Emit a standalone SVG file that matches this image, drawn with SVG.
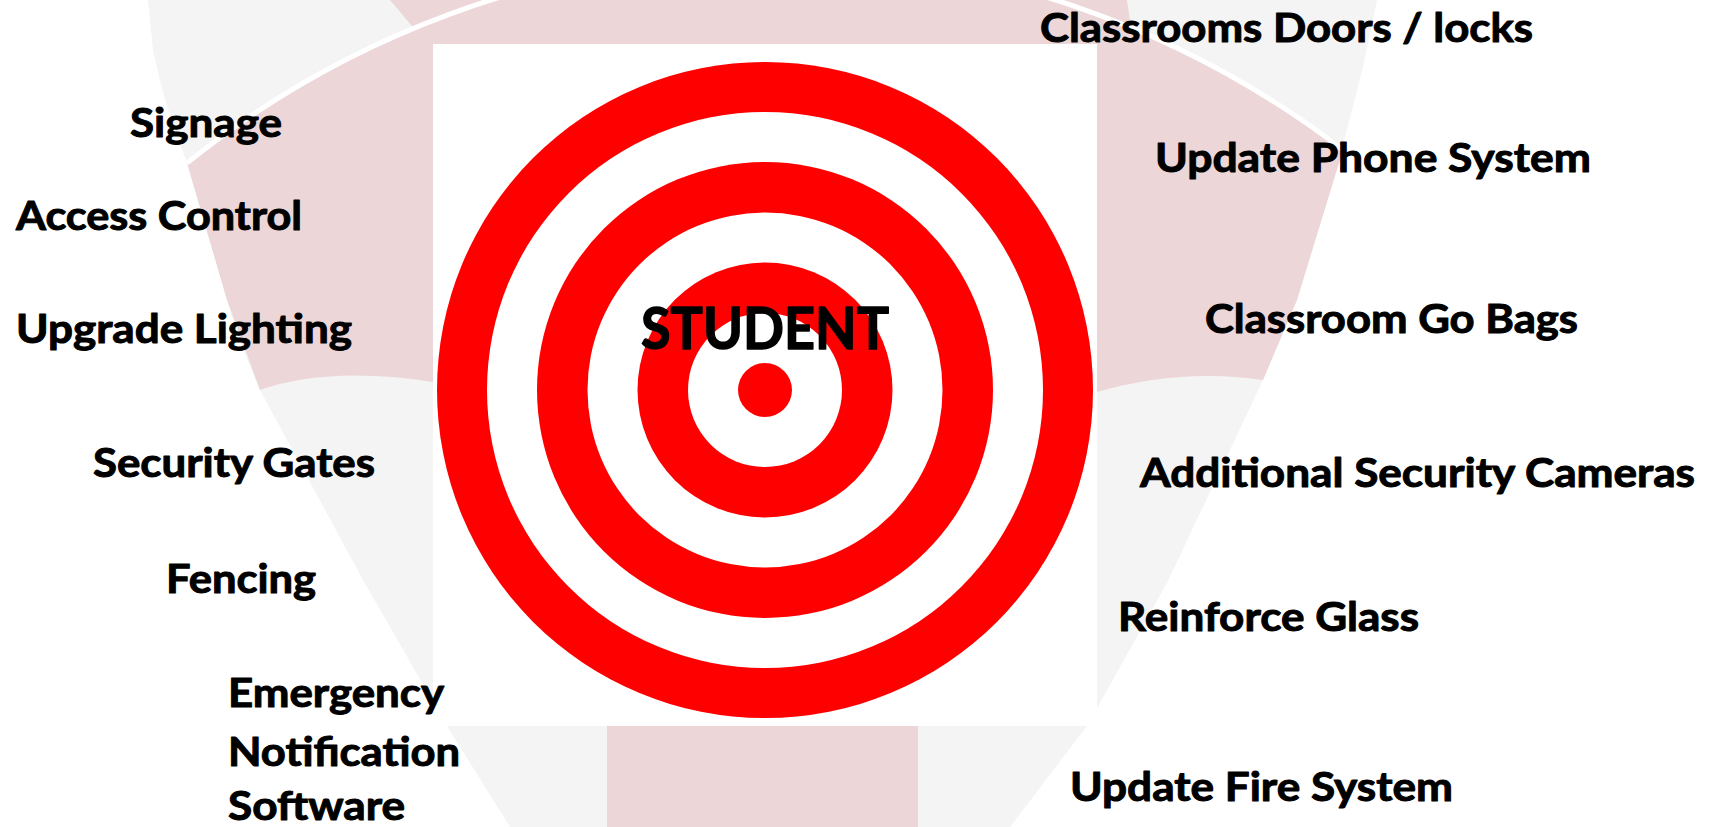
<svg xmlns="http://www.w3.org/2000/svg" width="1710" height="827" viewBox="0 0 1710 827">
  <style>
    .lbl { font-family: Lato, "Open Sans", "Liberation Sans", sans-serif; font-weight: bold; font-size: 41px; fill: #000000; stroke: #000000; stroke-width: 1px; stroke-linejoin: round; }
    .big { font-size: 57px; stroke-width: 1.4px; }
    .red { fill: #ff0000; }
    .wht { fill: #ffffff; }
    .pink { fill: #ecd6d8; }
    .gray { fill: #f4f4f4; }
  </style>
  <rect x="0" y="0" width="1710" height="827" fill="#ffffff"/>
  <g id="background">
    <path class="gray" d="M148,0 L153,50 Q166,112 187,162 L227,300 Q240,345 260,390 L363,580 L447,726 L510,827 L1010,827 L1087,726 L1167,583 L1263,380 L1297,300 L1343,145 L1363,67 L1377,0 Z"/>
    <path class="pink" d="M390,0 L1127,0 L1133,42 A935,935 0 0 0 417,32 Z"/>
    <path class="pink" d="M187,163 A935,935 0 0 1 1343,150 L1297,300 L1263,380 Q1180,368 1097,392 L433,382 Q330,366 260,390 L227,300 Z"/>
    <rect class="pink" x="607" y="380" width="311" height="447"/>
    <path d="M187,163 A935,935 0 0 1 1343,150" fill="none" stroke="#ffffff" stroke-width="5"/>
  </g>
  <g id="target">
    <rect class="wht" x="433" y="44" width="664" height="682"/>
    <circle class="red" cx="765" cy="390" r="328"/>
    <circle class="wht" cx="765" cy="390" r="278"/>
    <circle class="red" cx="765" cy="390" r="228"/>
    <circle class="wht" cx="765" cy="390" r="177.5"/>
    <circle class="red" cx="765" cy="390" r="127.5"/>
    <circle class="wht" cx="765" cy="390" r="77"/>
    <circle class="red" cx="765" cy="390" r="27"/>
  </g>
  <g id="connectors"/>
  <g id="student"><text class="lbl big" x="641" y="349" textLength="248" lengthAdjust="spacingAndGlyphs">STUDENT</text></g>
  <g id="classrooms-doors"><text class="lbl" x="1040" y="42" textLength="493" lengthAdjust="spacingAndGlyphs">Classrooms Doors / locks</text></g>
  <g id="signage"><text class="lbl" x="130" y="137" textLength="152" lengthAdjust="spacingAndGlyphs">Signage</text></g>
  <g id="access-control"><text class="lbl" x="16" y="230" textLength="286" lengthAdjust="spacingAndGlyphs">Access Control</text></g>
  <g id="upgrade-lighting"><text class="lbl" x="16" y="343" textLength="336" lengthAdjust="spacingAndGlyphs">Upgrade Lighting</text></g>
  <g id="update-phone"><text class="lbl" x="1155" y="172" textLength="436" lengthAdjust="spacingAndGlyphs">Update Phone System</text></g>
  <g id="go-bags"><text class="lbl" x="1205" y="333" textLength="373" lengthAdjust="spacingAndGlyphs">Classroom Go Bags</text></g>
  <g id="security-gates"><text class="lbl" x="93" y="477" textLength="282" lengthAdjust="spacingAndGlyphs">Security Gates</text></g>
  <g id="cameras"><text class="lbl" x="1140" y="487" textLength="555" lengthAdjust="spacingAndGlyphs">Additional Security Cameras</text></g>
  <g id="fencing"><text class="lbl" x="166" y="593" textLength="150" lengthAdjust="spacingAndGlyphs">Fencing</text></g>
  <g id="reinforce-glass"><text class="lbl" x="1118" y="631" textLength="301" lengthAdjust="spacingAndGlyphs">Reinforce Glass</text></g>
  <g id="emergency-software">
    <text class="lbl" x="228" y="707" textLength="216" lengthAdjust="spacingAndGlyphs">Emergency</text>
    <text class="lbl" x="228" y="766" textLength="232" lengthAdjust="spacingAndGlyphs">Notification</text>
    <text class="lbl" x="228" y="820" textLength="177" lengthAdjust="spacingAndGlyphs">Software</text>
  </g>
  <g id="update-fire"><text class="lbl" x="1070" y="801" textLength="383" lengthAdjust="spacingAndGlyphs">Update Fire System</text></g>
</svg>
